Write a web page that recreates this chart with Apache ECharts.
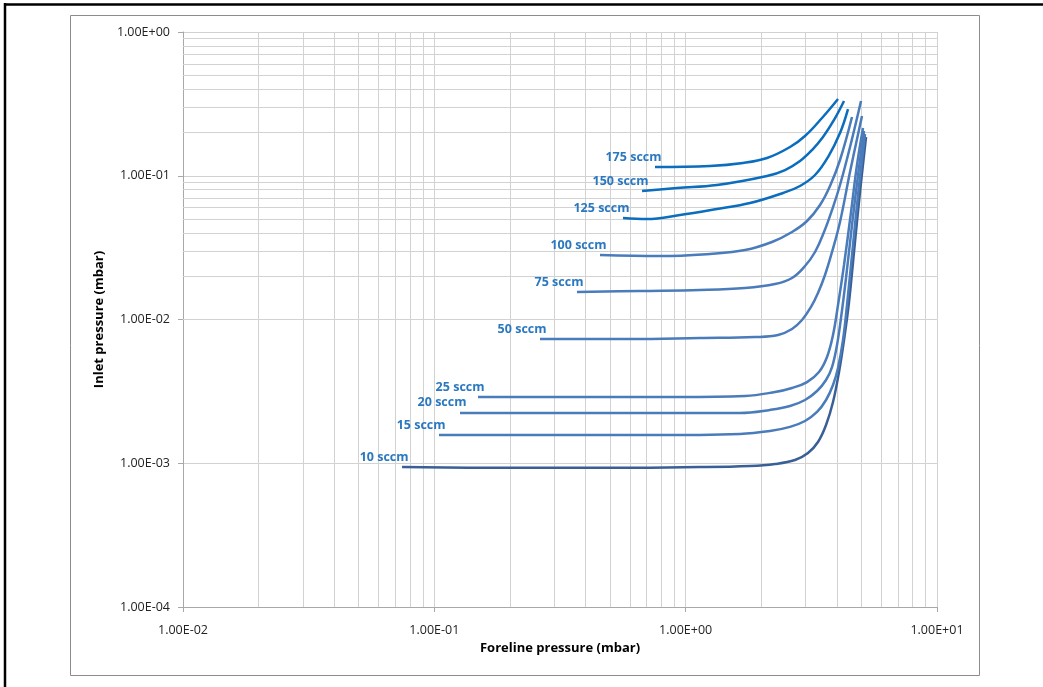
<!DOCTYPE html>
<html>
<head>
<meta charset="utf-8">
<script src="https://cdn.jsdelivr.net/npm/echarts@6/dist/echarts.min.js"></script>
<style>
html,body{margin:0;padding:0;background:#fff;}
#chart{width:1043px;height:687px;}
</style>
</head>
<body>
<div id="chart"></div>
<script>
// ---- data (foreline pressure [mbar], inlet pressure [mbar]) ----
const seriesNames = ['10 sccm','15 sccm','20 sccm','25 sccm','50 sccm','75 sccm','100 sccm','125 sccm','150 sccm','175 sccm'];
const xTickLabels = ['1.00E-02','1.00E-01','1.00E+00','1.00E+01'];
const yTickLabels = ['1.00E-04','1.00E-03','1.00E-02','1.00E-01','1.00E+00'];

const s10 = [[0.0744,0.00094],[0.1825,0.00093],[0.456,0.00093],[1.14,0.00094],[1.803,0.000957],[2.267,0.000988],[2.723,0.001053],[3.067,0.001178],[3.361,0.001405],[3.618,0.001845],[3.857,0.002668],[4.075,0.004312],[4.266,0.0072],[4.466,0.01323],[4.675,0.02948],[4.939,0.0771],[5.22,0.186]];
const s15 = [[0.1044,0.00157],[0.2886,0.00157],[0.7213,0.00157],[1.645,0.0016],[2.165,0.001676],[2.602,0.00179],[2.984,0.001967],[3.332,0.002273],[3.618,0.002754],[3.857,0.0035],[4.038,0.0046],[4.227,0.0072],[4.385,0.01262],[4.59,0.0281],[4.851,0.0735],[5.17,0.1952]];
const s20 = [[0.1265,0.00224],[0.3162,0.00224],[0.7904,0.00224],[1.645,0.00224],[2.165,0.00235],[2.602,0.0025],[2.984,0.002754],[3.332,0.003181],[3.618,0.003794],[3.822,0.004672],[4.001,0.00665],[4.15,0.01024],[4.345,0.01944],[4.59,0.0454],[4.851,0.1012],[5.124,0.2048]];
const s25 = [[0.1492,0.00289],[0.3798,0.00289],[0.9495,0.00289],[1.722,0.002936],[2.267,0.00313],[2.649,0.00334],[3.04,0.00367],[3.392,0.004312],[3.651,0.005484],[3.857,0.0078],[4.038,0.01262],[4.266,0.02394],[4.549,0.05595],[4.805,0.1188],[5.077,0.2149]];
const s50 = [[0.2633,0.00731],[0.6005,0.00731],[1.14,0.00743],[1.888,0.00755],[2.331,0.0078],[2.649,0.00859],[2.903,0.00992],[3.153,0.01222],[3.361,0.01529],[3.584,0.0204],[3.822,0.02948],[4.112,0.04769],[4.507,0.1062],[5.03,0.2604]];
const s75 = [[0.3694,0.01553],[0.658,0.01579],[1.14,0.01604],[1.722,0.01656],[2.267,0.01766],[2.649,0.01944],[2.984,0.02356],[3.271,0.02948],[3.551,0.0406],[3.822,0.0578],[4.112,0.0862],[4.549,0.169],[4.985,0.331]];
const s100 = [[0.4562,0.0281],[0.7904,0.0276],[1.25,0.0286],[1.722,0.0304],[2.205,0.03459],[2.649,0.0406],[3.04,0.04843],[3.424,0.0626],[3.753,0.0849],[4.112,0.1287],[4.59,0.2563]];
const s125 = [[0.5632,0.0508],[0.7019,0.05],[0.9495,0.0533],[1.332,0.0587],[1.803,0.0646],[2.44,0.0759],[2.851,0.0849],[3.271,0.1012],[3.685,0.135],[4.112,0.1983],[4.425,0.291]];
const s150 = [[0.6706,0.0783],[0.9237,0.0822],[1.332,0.0862],[2.107,0.0996],[2.485,0.1096],[2.851,0.1266],[3.182,0.151],[3.519,0.186],[3.893,0.2443],[4.266,0.331]];
const s175 = [[0.7551,0.115],[1.25,0.1169],[1.691,0.1227],[2.107,0.1329],[2.602,0.1585],[2.984,0.189],[3.487,0.2522],[4.038,0.342]];

const allData = [s10,s15,s20,s25,s50,s75,s100,s125,s150,s175];
const lineColors = ['#3A5F96','#4A7BBA','#4A7BBA','#4A7BBA','#4A7BBA','#4A7BBA','#4A7BBA','#0A6DBD','#0A6DBD','#0A6DBD'];

// minor grid values (2..9 per decade)
const minorX = [], minorY = [];
for (let d = -2; d <= 0; d++) for (let k = 2; k <= 9; k++) minorX.push(k * Math.pow(10, d));
for (let d = -4; d <= -1; d++) for (let k = 2; k <= 9; k++) minorY.push(k * Math.pow(10, d));

const FONT = "'Open Sans', 'Noto Sans', sans-serif";
const gridColor = '#d2d2d2';

const series = allData.map((d, i) => ({
  name: seriesNames[i],
  type: 'line',
  data: d,
  smooth: 0.4,
  showSymbol: false,
  symbol: 'none',
  z: 5,
  lineStyle: { color: lineColors[i], width: 2.5 },
  markPoint: {
    silent: true,
    symbol: 'circle',
    symbolSize: 1,
    itemStyle: { color: 'rgba(0,0,0,0)' },
    label: {
      show: true,
      position: 'left',
      distance: 0,
      offset: [7, -10],
      formatter: seriesNames[i],
      color: '#2A78C0',
      fontFamily: FONT,
      fontWeight: 'bold',
      fontSize: 12.5
    },
    data: [{ coord: d[0] }]
  }
}));

series.unshift({
  name: 'grid',
  type: 'line',
  data: [],
  silent: true,
  z: 1,
  markLine: {
    silent: true,
    symbol: ['none', 'none'],
    animation: false,
    label: { show: false },
    lineStyle: { color: gridColor, width: 1, type: 'solid' },
    emphasis: { disabled: true },
    data: minorX.map(v => ({ xAxis: v })).concat(minorY.map(v => ({ yAxis: v })))
  }
});

const chart = echarts.init(document.getElementById('chart'), null, { renderer: 'canvas' });
chart.setOption({
  backgroundColor: '#ffffff',
  animation: false,
  grid: { left: 183, top: 32, right: 106, bottom: 80, containLabel: false },
  xAxis: {
    type: 'log',
    logBase: 10,
    min: 0.01,
    max: 10,
    name: 'Foreline pressure (mbar)',
    nameLocation: 'middle',
    nameGap: 35,
    nameTextStyle: { fontFamily: FONT, fontWeight: 'bold', fontSize: 13, color: '#000' },
    axisLine: { show: true, lineStyle: { color: '#a8a8a8', width: 1 } },
    axisTick: { show: true, length: 5, lineStyle: { color: '#a8a8a8' } },
    axisLabel: {
      margin: 17,
      fontFamily: FONT, fontSize: 12.5, color: '#222',
      formatter: v => xTickLabels[Math.round(Math.log10(v)) + 2]
    },
    splitLine: { show: true, lineStyle: { color: gridColor, width: 1 } },
    minorTick: { show: false },
    minorSplitLine: { show: false }
  },
  yAxis: {
    type: 'log',
    logBase: 10,
    min: 0.0001,
    max: 1,
    name: 'Inlet pressure (mbar)',
    nameLocation: 'middle',
    nameGap: 74,
    nameTextStyle: { fontFamily: FONT, fontWeight: 'bold', fontSize: 13, color: '#000' },
    axisLine: { show: true, lineStyle: { color: '#a8a8a8', width: 1 } },
    axisTick: { show: true, length: 5, lineStyle: { color: '#a8a8a8' } },
    axisLabel: {
      margin: 13,
      fontFamily: FONT, fontSize: 12.5, color: '#222',
      formatter: v => yTickLabels[Math.round(Math.log10(v)) + 4]
    },
    splitLine: { show: true, lineStyle: { color: gridColor, width: 1 } },
    minorTick: { show: false },
    minorSplitLine: { show: false }
  },
  graphic: [
    { type: 'rect', silent: true, z: -1, shape: { x: 70.5, y: 15.5, width: 909, height: 660 },
      style: { fill: 'none', stroke: '#8c8c8c', lineWidth: 1 } },
    { type: 'line', silent: true, shape: { x1: 4, y1: 4.5, x2: 1043, y2: 4.5 },
      style: { stroke: '#000', lineWidth: 2.5 } },
    { type: 'line', silent: true, shape: { x1: 5, y1: 3, x2: 5, y2: 687 },
      style: { stroke: '#000', lineWidth: 2.5 } }
  ],
  series: series
});
</script>
</body>
</html>
